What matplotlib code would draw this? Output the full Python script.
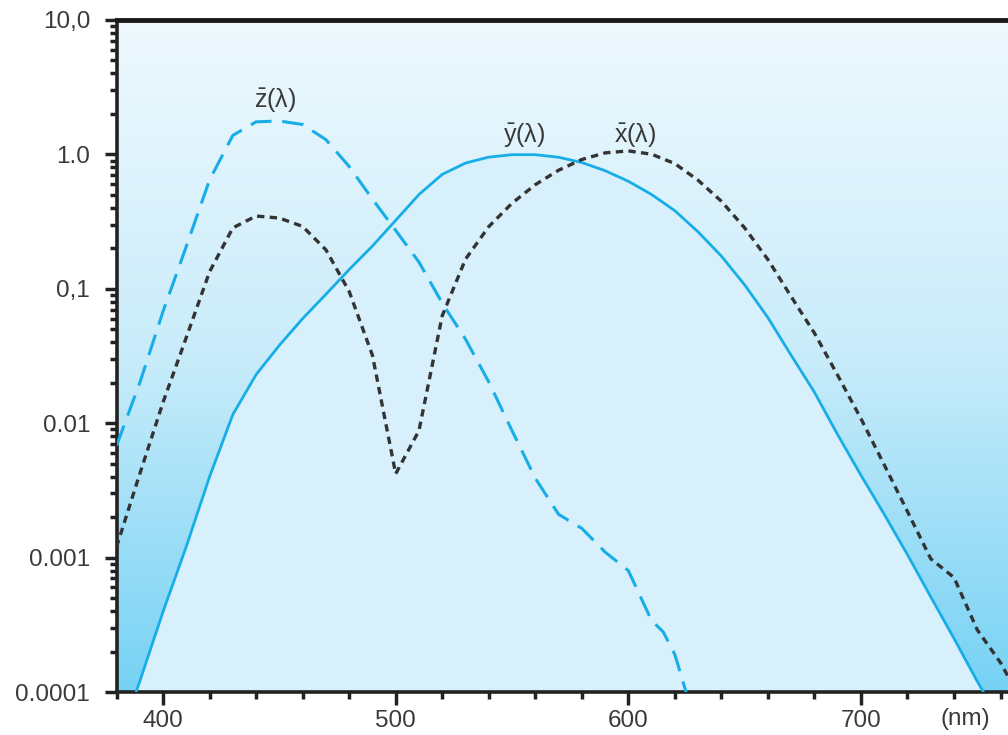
import numpy as np
import matplotlib
matplotlib.use('Agg')
import matplotlib.pyplot as plt
from matplotlib.ticker import FixedLocator, NullFormatter
from matplotlib.colors import LinearSegmentedColormap

plt.rcParams['font.family'] = ['Liberation Sans', 'DejaVu Sans']
plt.rcParams['mathtext.fontset'] = 'custom'
plt.rcParams['mathtext.rm'] = 'Liberation Sans'

# wavelength (nm) and colour matching functions
wl = [380, 390, 400, 410, 420, 430, 440, 450, 460, 470, 480, 490, 500,
      510, 520, 530, 540, 550, 560, 570, 580, 590, 600, 610, 620, 630,
      640, 650, 660, 670, 680, 690, 700, 710, 720, 730, 740, 750, 760, 770]
x_bar = [0.0012, 0.0042, 0.0143, 0.0435, 0.134, 0.284, 0.348, 0.336, 0.291,
         0.195, 0.0956, 0.032, 0.0042, 0.0088, 0.063, 0.166, 0.29, 0.433,
         0.595, 0.762, 0.916, 1.026, 1.062, 1.003, 0.854, 0.642, 0.448,
         0.284, 0.165, 0.0874, 0.0468, 0.0227, 0.0108, 0.0049, 0.0022,
         0.00098, 0.00071, 0.00029, 0.000165, 0.00008]
y_bar = [0.000039, 0.00012, 0.000396, 0.00121, 0.004, 0.0116, 0.023, 0.038,
         0.06, 0.091, 0.139, 0.208, 0.323, 0.503, 0.71, 0.862, 0.954, 0.995,
         0.995, 0.952, 0.87, 0.757, 0.631, 0.503, 0.381, 0.265, 0.175,
         0.107, 0.061, 0.032, 0.017, 0.0082, 0.0041, 0.0021, 0.00105,
         0.00051, 0.00025, 0.00012, 0.00006, 0.00003]
z_bar_wl = [380, 390, 400, 410, 420, 430, 440, 450, 460, 470, 480, 490,
            500, 510, 520, 530, 540, 550, 560, 570, 580, 590, 600, 610,
            615, 620, 630]
z_bar = [0.0068, 0.02, 0.0679, 0.207, 0.646, 1.386, 1.747, 1.772, 1.669,
         1.288, 0.813, 0.465, 0.272, 0.158, 0.0783, 0.0422, 0.0203, 0.0088,
         0.0039, 0.0021, 0.00165, 0.0011, 0.0008, 0.00034, 0.00028,
         0.00019, 0.00005]

y_ticks = [1e-4, 1e-3, 1e-2, 1e-1, 1, 10]
y_labels = ['0.0001', '0.001', '0.01', '0,1', '1.0', '10,0']
x_ticks = [400, 500, 600, 700]

blue = '#17aee8'
dark = '#333333'
text_col = '#3a3a3a'

fig = plt.figure(figsize=(10.08, 7.35), dpi=100)
ax = fig.add_axes([0.1156, 0.0585, 0.8844, 0.9143])

# vertical gradient background
grad = LinearSegmentedColormap.from_list('bg', ['#eff9fe', '#c9ecfa', '#76d2f4'])
ax.imshow(np.linspace(0, 1, 256).reshape(-1, 1), cmap=grad, aspect='auto',
          extent=[0, 1, 0, 1], origin='upper', transform=ax.transAxes, zorder=0)

ax.set_yscale('log')
ax.set_xlim(380, 763.2)
ax.set_ylim(1e-4, 10)

ax.fill_between(wl, y_bar, 1e-6, color='#d8f0fc', zorder=1, lw=0)

ax.plot(wl, y_bar, color=blue, lw=2.0, zorder=3)
ax.plot(z_bar_wl, z_bar, color=blue, lw=2.2, dashes=(7, 3.5), zorder=3)
ax.plot(wl, x_bar, color=dark, lw=2.4, dashes=(2.2, 1.6), zorder=4)

lab = dict(fontsize=18, color=text_col, ha='center', va='center', zorder=5)
ax.text(448, 2.55, r'$\mathrm{\bar{z}}$(λ)', **lab)
ax.text(555, 1.40, r'$\mathrm{\bar{y}}$(λ)', **lab)
ax.text(603, 1.40, r'$\mathrm{\bar{x}}$(λ)', **lab)

# axes styling
for s in ['left', 'bottom']:
    ax.spines[s].set_linewidth(2.6)
    ax.spines[s].set_color('#222222')
ax.spines['top'].set_linewidth(3.5)
ax.spines['top'].set_color('#1a1a1a')
ax.spines['right'].set_visible(False)

ax.yaxis.set_major_locator(FixedLocator(y_ticks))
ax.set_yticklabels(y_labels)
ax.yaxis.set_minor_locator(FixedLocator(
    [m * 10.0 ** e for e in range(-4, 1) for m in range(2, 10)]))
ax.yaxis.set_minor_formatter(NullFormatter())

ax.xaxis.set_major_locator(FixedLocator(x_ticks))
ax.xaxis.set_minor_locator(FixedLocator(list(range(380, 770, 20))))

ax.tick_params(which='major', direction='out', length=9, width=2.5,
               color='#222222', labelsize=17.5, labelcolor=text_col)
ax.tick_params(which='minor', direction='out', length=5, width=2.5,
               color='#222222')
ax.tick_params(axis='x', which='major', pad=4)
ax.tick_params(axis='y', which='major', pad=10)

ax.text(745, -0.04, '(nm)', transform=ax.get_xaxis_transform(),
        fontsize=17.5, color=text_col, ha='center', va='center')

fig.savefig('out.png', dpi=100)
